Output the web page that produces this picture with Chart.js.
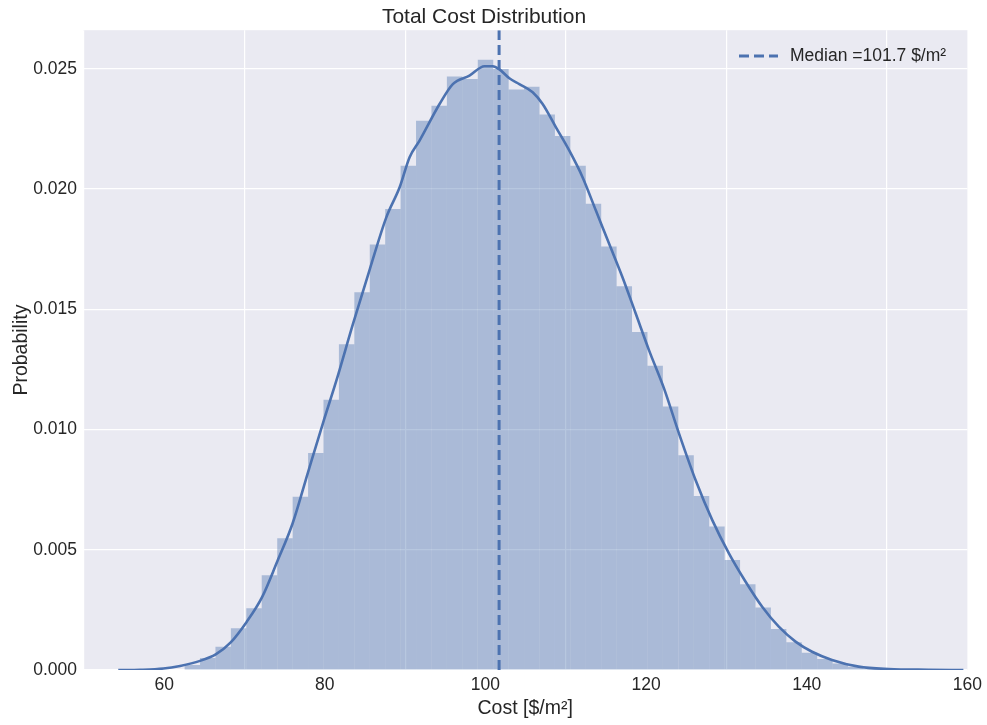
<!DOCTYPE html>
<html>
<head>
  <title>Total Cost Distribution</title>
  <script src="https://cdn.jsdelivr.net/npm/chart.js"></script>
  <style>
    body { margin: 0; background: #ffffff; }
    #wrap { width: 987px; height: 725px; position: relative; }
  </style>
</head>
<body>
  <div id="wrap"><canvas id="cost-chart"></canvas></div>

  <script>
    // histogram bins (centres) and density heights
    const binCenters = [63.51, 65.43, 67.35, 69.27, 71.19, 73.11, 75.04, 76.96, 78.88, 80.80,
      82.72, 84.64, 86.56, 88.48, 90.40, 92.32, 94.24, 96.16, 98.08, 100.01,
      101.93, 103.85, 105.77, 107.69, 109.61, 111.53, 113.45, 115.37, 117.29, 119.21,
      121.13, 123.05, 124.98, 126.90, 128.82, 130.74, 132.66, 134.58, 136.50, 138.42,
      140.34, 142.26, 144.18, 146.10, 148.02];
    const binDensity = [0.00021, 0.0005, 0.00097, 0.00174, 0.00257, 0.00394, 0.00548, 0.0072, 0.00902, 0.01124,
      0.01354, 0.01571, 0.01769, 0.01917, 0.02096, 0.02284, 0.02346, 0.02467, 0.02457, 0.02537,
      0.02499, 0.02413, 0.02425, 0.02309, 0.0222, 0.02096, 0.01938, 0.01761, 0.01595, 0.01405,
      0.01265, 0.01096, 0.00893, 0.00723, 0.00597, 0.00457, 0.00356, 0.0026, 0.0017, 0.00115,
      0.00072, 0.00046, 0.00027, 0.00013, 0.00005];

    // kde curve
    const kdeX = [54.29, 57.02, 59.91, 61.99, 64.47, 66.42, 68.29, 70.27, 72.21, 74.07,
      75.99, 77.93, 79.88, 81.45, 83.52, 85.59, 87.66, 89.32, 90.56, 91.80,
      94.29, 95.94, 98.01, 99.88, 100.91, 101.74, 102.98, 104.22, 105.88, 107.12,
      108.78, 110.43, 112.09, 113.75, 115.40, 117.06, 118.72, 120.37, 122.24, 124.10,
      126.17, 128.24, 130.31, 132.39, 134.45, 136.52, 138.60, 140.66, 143.14, 146.46,
      150.19, 155.16, 159.50];
    const kdeY = [0, 0.00001, 0.00006, 0.00017, 0.00038, 0.00065, 0.00115, 0.002, 0.00304, 0.0045,
      0.00609, 0.00824, 0.01038, 0.01204, 0.0144, 0.01665, 0.01882, 0.02007, 0.02132, 0.02201,
      0.02353, 0.02436, 0.02471, 0.0251, 0.0251, 0.02497, 0.0246, 0.02436, 0.02402, 0.02353,
      0.02256, 0.0216, 0.02049, 0.0191, 0.01772, 0.01633, 0.01481, 0.01329, 0.0117, 0.00983,
      0.00789, 0.00623, 0.00485, 0.00367, 0.00263, 0.0018, 0.00118, 0.00076, 0.00042, 0.00014,
      0.00004, 0.00001, 0];

    const medianCost = 101.7;
    const xRange = [49.9, 160];
    const yRange = [0, 0.0266];

    const blue = "#4c72b0";
    const textCol = "#262626";
    const fontFam = "'Liberation Sans', Arial, sans-serif";

    // grey plot background
    const bgPlugin = {
      id: "plotBg",
      beforeDraw(chart) {
        const a = chart.chartArea;
        const c = chart.ctx;
        c.save();
        c.fillStyle = "#eaeaf2";
        c.fillRect(a.left, a.top, a.right - a.left, a.bottom - a.top);
        c.restore();
      }
    };

    // legend drawn inside the plot, top right
    const medianLegend = {
      id: "medianLegend",
      afterDraw(chart) {
        const c = chart.ctx;
        const ds = chart.data.datasets[0];
        const y = 56;
        c.save();
        c.strokeStyle = ds.borderColor;
        c.lineWidth = ds.borderWidth;
        c.setLineDash(ds.borderDash);
        c.beginPath();
        c.moveTo(739, y);
        c.lineTo(778, y);
        c.stroke();
        c.setLineDash([]);
        c.fillStyle = textCol;
        c.font = "17.5px " + fontFam;
        c.textBaseline = "middle";
        c.fillText("Median =101.7 $/m²", 790, y);
        c.restore();
      }
    };

    const ctx = document.getElementById("cost-chart").getContext("2d");
    new Chart(ctx, {
      data: {
        datasets: [
          {
            type: "line",
            label: "Median =101.7 $/m²",
            data: [{ x: medianCost, y: yRange[0] }, { x: medianCost, y: yRange[1] }],
            borderColor: blue,
            borderWidth: 3,
            borderDash: [10, 5],
            pointRadius: 0,
            order: 0
          },
          {
            type: "line",
            label: "kde",
            data: kdeX.map((x, i) => ({ x: x, y: kdeY[i] })),
            borderColor: blue,
            borderWidth: 2.6,
            pointRadius: 0,
            cubicInterpolationMode: "monotone",
            fill: false,
            order: 1
          },
          {
            type: "bar",
            label: "hist",
            data: binCenters.map((x, i) => ({ x: x, y: binDensity[i] })),
            backgroundColor: "rgba(76,114,176,0.4)",
            borderWidth: 0,
            inflateAmount: 0,
            barPercentage: 1,
            categoryPercentage: 1,
            order: 2
          }
        ]
      },
      options: {
        responsive: true,
        maintainAspectRatio: false,
        animation: false,
        layout: { padding: { left: 0, right: 19, top: 0, bottom: 0 } },
        plugins: {
          legend: { display: false },
          tooltip: { enabled: false },
          title: {
            display: true,
            text: "Total Cost Distribution",
            color: textCol,
            font: { family: fontFam, size: 21, weight: "normal" },
            padding: { top: 5, bottom: 0 }
          }
        },
        scales: {
          x: {
            type: "linear",
            min: xRange[0],
            max: xRange[1],
            offset: false,
            border: { display: false },
            grid: { color: "#ffffff", lineWidth: 1.2, drawTicks: false },
            ticks: {
              stepSize: 20,
              includeBounds: false,
              padding: 5,
              color: textCol,
              font: { family: fontFam, size: 17.5 }
            },
            title: {
              display: true,
              text: "Cost [$/m²]",
              color: textCol,
              font: { family: fontFam, size: 19.5 },
              padding: { top: 0, bottom: 5 }
            },
            afterFit(scale) { scale.height = 55; }
          },
          y: {
            min: yRange[0],
            max: yRange[1],
            border: { display: false },
            grid: { color: "#ffffff", lineWidth: 1.2, drawTicks: false },
            ticks: {
              stepSize: 0.005,
              includeBounds: false,
              padding: 6,
              color: textCol,
              font: { family: fontFam, size: 17.5 },
              callback: (v) => v.toFixed(3)
            },
            title: {
              display: true,
              text: "Probability",
              color: textCol,
              font: { family: fontFam, size: 19.5 },
              padding: { top: 10, bottom: 0 }
            },
            afterFit(scale) { scale.width = 83; }
          }
        }
      },
      plugins: [bgPlugin, medianLegend]
    });
  </script>
</body>
</html>
